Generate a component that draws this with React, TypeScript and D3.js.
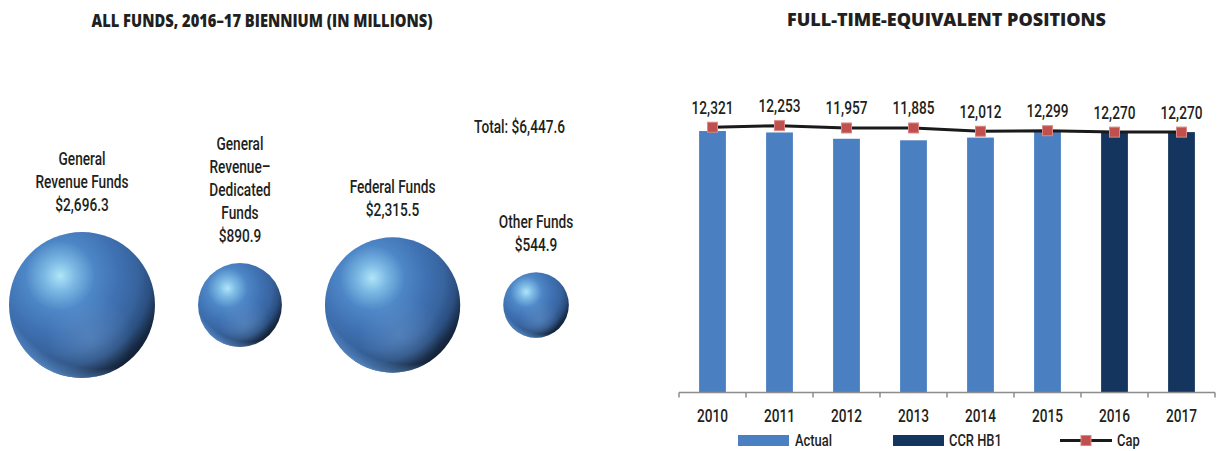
import React from "react";
import * as d3 from "d3";

// ---------- Left chart data ----------
const fundLabels: string[][] = [
  ["General", "Revenue Funds"],
  ["General", "Revenue–", "Dedicated", "Funds"],
  ["Federal Funds"],
  ["Other Funds"],
];
const fundValues = [2696.3, 890.9, 2315.5, 544.9];
const fundValueLabels = ["$2,696.3", "$890.9", "$2,315.5", "$544.9"];
const totalLabel = "Total: $6,447.6";
const leftTitle = "ALL FUNDS, 2016–17 BIENNIUM (IN MILLIONS)";

// ---------- Right chart data ----------
const rightTitle = "FULL-TIME-EQUIVALENT POSITIONS";
const years = ["2010", "2011", "2012", "2013", "2014", "2015", "2016", "2017"];
const actualValues: (number | null)[] = [12321, 12253, 11957, 11885, 12012, 12299, null, null];
const ccrValues: (number | null)[] = [null, null, null, null, null, null, 12270, 12270];
const capValues = [12500, 12575, 12465, 12465, 12310, 12335, 12270, 12270];
const valueLabels = ["12,321", "12,253", "11,957", "11,885", "12,012", "12,299", "12,270", "12,270"];
const legendItems = ["Actual", "CCR HB1", "Cap"];
const yMax = 14000;

const TEXT = "#231f20";
const COND = "Roboto, 'Noto Sans', sans-serif";
const SX = 0.76;
const BOLD = "'Open Sans', 'DejaVu Sans', sans-serif";
const ACTUAL = "#4a80c1";
const CCR = "#14365e";
const CAP = "#1a1a1a";
const MARKER = "#c0504d";
const FS = 18;

function CText(props: { x: number; y: number; anchor?: string; size?: number; children: React.ReactNode }) {
  return (
    <text
      transform={`translate(${props.x},${props.y}) scale(${SX},1)`}
      textAnchor={props.anchor || "start"}
      fontFamily={COND}
      fontWeight={500}
      fontSize={props.size || FS}
      fill={TEXT}
    >
      {props.children}
    </text>
  );
}

export default function App() {
  // ----- bubbles -----
  const rScale = d3.scaleSqrt().domain([0, d3.max(fundValues)!]).range([0, 73]);
  const gap = 43;
  const startX = 9;
  const cy = 305;
  const bubbles: { cx: number; r: number }[] = [];
  let edge = startX;
  fundValues.forEach((v) => {
    const r = rScale(v);
    bubbles.push({ cx: edge + r, r });
    edge += 2 * r + gap;
  });
  const lineH = 23;

  // ----- bar chart -----
  const x = d3.scaleBand<string>().domain(years).range([679, 1215]).paddingInner(0.6).paddingOuter(0.3);
  const y = d3.scaleLinear().domain([0, yMax]).range([392.5, 95.4]);
  const step = x.step();
  const x0 = 679;
  const bw = x.bandwidth();
  const cx = (yr: string) => (x(yr) as number) + bw / 2;
  const capLine = d3
    .line<number>()
    .x((_, i) => cx(years[i]))
    .y((d) => y(d));

  return (
    <svg
      width={1217}
      height={451}
      style={{ position: "absolute", left: 0, top: 0, background: "#fff" }}
    >
      <defs>
        <radialGradient id="sphBase" cx="0.35" cy="0.3" r="0.8">
          <stop offset="0" stopColor="#b0e6f8" />
          <stop offset="0.12" stopColor="#80bce6" />
          <stop offset="0.3" stopColor="#4d86c6" />
          <stop offset="0.5" stopColor="#3f71b2" />
          <stop offset="0.66" stopColor="#38649f" />
          <stop offset="0.78" stopColor="#2b4f80" />
          <stop offset="0.88" stopColor="#172a45" />
          <stop offset="1" stopColor="#0b1422" />
        </radialGradient>
        <radialGradient id="sphRim" cx="0.62" cy="0.25" r="0.8">
          <stop offset="0" stopColor="#6aa0dc" stopOpacity="0" />
          <stop offset="0.86" stopColor="#6aa0dc" stopOpacity="0" />
          <stop offset="0.94" stopColor="#5f95d4" stopOpacity="0.55" />
          <stop offset="1" stopColor="#6da3e0" stopOpacity="0.9" />
        </radialGradient>
        <radialGradient id="sphGlow" cx="0.55" cy="0.72" r="0.3">
          <stop offset="0" stopColor="#7aa8d8" stopOpacity="0.35" />
          <stop offset="1" stopColor="#7aa8d8" stopOpacity="0" />
        </radialGradient>
      </defs>

      {/* ---------- Left chart ---------- */}
      <text
        x={262}
        y={26.5}
        textAnchor="middle"
        fontFamily={BOLD}
        fontWeight={800}
        fontSize={17.5}
        fill={TEXT}
        textLength={341}
        lengthAdjust="spacingAndGlyphs"
      >
        {leftTitle}
      </text>
      <CText x={474} y={133}>
        {totalLabel}
      </CText>
      {bubbles.map((b, i) => {
        const lines = [...fundLabels[i], fundValueLabels[i]];
        const lastCenter = cy - b.r - 27.5;
        return (
          <g key={i}>
            {lines.map((ln, j) => (
              <CText key={j} x={b.cx} y={lastCenter - (lines.length - 1 - j) * lineH + 6.5} anchor="middle">
                {ln}
              </CText>
            ))}
            <circle cx={b.cx} cy={cy} r={b.r} fill="url(#sphBase)" />
            <circle cx={b.cx} cy={cy} r={b.r} fill="url(#sphGlow)" />
            <circle cx={b.cx} cy={cy} r={b.r} fill="url(#sphRim)" />
          </g>
        );
      })}

      {/* ---------- Right chart ---------- */}
      <text
        x={946.5}
        y={25.5}
        textAnchor="middle"
        fontFamily={BOLD}
        fontWeight={800}
        fontSize={17.5}
        fill={TEXT}
        textLength={319}
        lengthAdjust="spacingAndGlyphs"
      >
        {rightTitle}
      </text>

      {years.map((yr, i) =>
        actualValues[i] != null ? (
          <rect
            key={"a" + yr}
            x={x(yr)}
            y={y(actualValues[i] as number)}
            width={bw}
            height={y(0) - y(actualValues[i] as number)}
            fill={ACTUAL}
          />
        ) : null
      )}
      {years.map((yr, i) =>
        ccrValues[i] != null ? (
          <rect
            key={"c" + yr}
            x={x(yr)}
            y={y(ccrValues[i] as number)}
            width={bw}
            height={y(0) - y(ccrValues[i] as number)}
            fill={CCR}
          />
        ) : null
      )}

      {/* axis */}
      <line x1={x0} x2={1215} y1={y(0)} y2={y(0)} stroke="#8c8c8c" strokeWidth={1.5} />
      {d3.range(years.length + 1).map((i) => (
        <line
          key={"t" + i}
          x1={x0 + i * step}
          x2={x0 + i * step}
          y1={y(0)}
          y2={y(0) + 5}
          stroke="#8c8c8c"
          strokeWidth={1.5}
        />
      ))}
      {years.map((yr) => (
        <CText key={"yl" + yr} x={cx(yr)} y={421.5} anchor="middle">
          {yr}
        </CText>
      ))}

      {/* cap line */}
      <path d={capLine(capValues) || ""} fill="none" stroke={CAP} strokeWidth={3} />
      {capValues.map((v, i) => (
        <rect
          key={"m" + i}
          x={cx(years[i]) - 5}
          y={y(v) - 5}
          width={10}
          height={10}
          fill={MARKER}
          stroke="#d98885"
          strokeWidth={1}
        />
      ))}
      {valueLabels.map((lb, i) => (
        <CText key={"vl" + i} x={cx(years[i])} y={y(capValues[i]) - 20 + 6.5} anchor="middle">
          {lb}
        </CText>
      ))}

      {/* legend */}
      <rect x={738} y={435} width={51} height={11} fill={ACTUAL} />
      <CText x={795} y={446} size={17}>
        {legendItems[0]}
      </CText>
      <rect x={893} y={435} width={51} height={11} fill={CCR} />
      <CText x={949} y={446} size={17}>
        {legendItems[1]}
      </CText>
      <line x1={1060} x2={1112} y1={440.5} y2={440.5} stroke={CAP} strokeWidth={3} />
      <rect x={1081} y={435.5} width={10} height={10} fill={MARKER} stroke="#d98885" strokeWidth={1} />
      <CText x={1117} y={446} size={17}>
        {legendItems[2]}
      </CText>
    </svg>
  );
}
